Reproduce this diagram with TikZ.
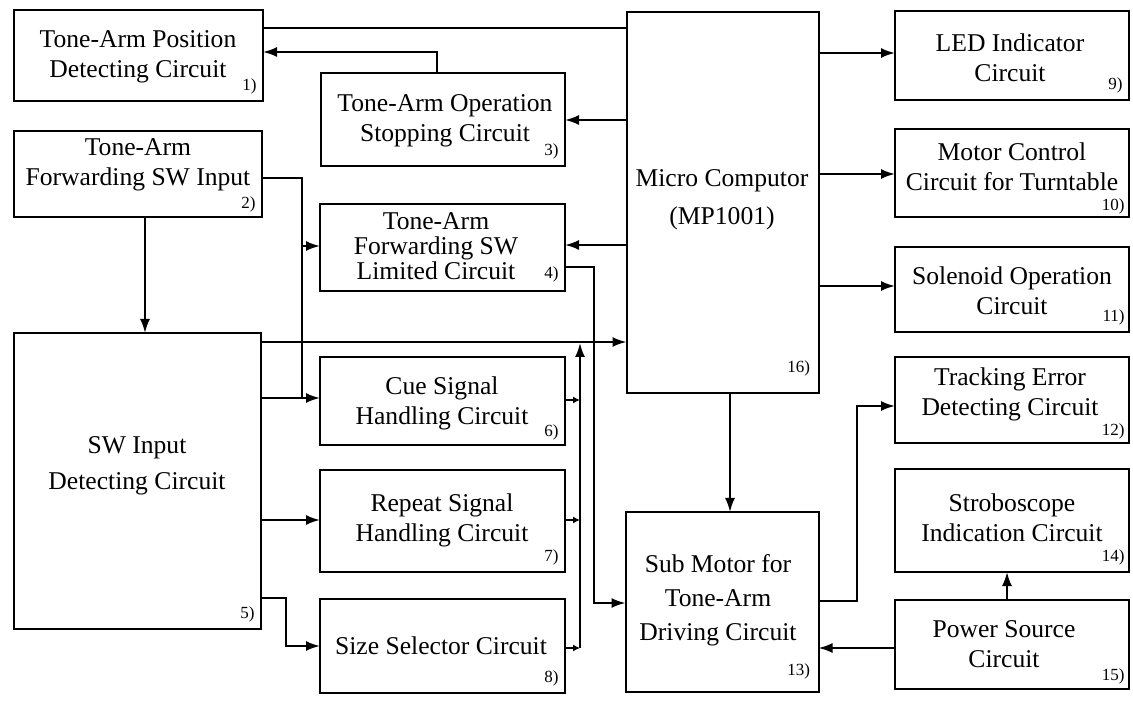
\documentclass[tikz,border=0pt]{standalone}
\usepackage{fontspec}
\setmainfont{Liberation Serif}
\usetikzlibrary{arrows.meta}
\tikzset{
  bx/.style={draw, line width=1pt, inner sep=0pt, outer sep=0pt},
  txt/.style={align=center, inner sep=0pt, font=\fontsize{12.8}{15}\selectfont},
  num/.style={anchor=south east, inner sep=0pt, font=\fontsize{8.5}{10}\selectfont},
  ln/.style={line width=1pt},
  arr/.style={line width=1pt, -{Latex[length=7pt,width=5pt]}},
  sarr/.style={line width=1pt, -{Latex[length=3.5pt,width=3.5pt]}}
}
\begin{document}
\begin{tikzpicture}[x=0.5pt, y=-0.5pt]
\useasboundingbox[fill=white] (0,0) rectangle (1133,704);
% boxes
\node[bx, minimum width=124.5pt, minimum height=45.5pt] (b1) at (138.5,55.5) {};
\node[bx, minimum width=122pt, minimum height=46.5pt] (b3) at (443,119.5) {};
\node[bx, minimum width=124pt, minimum height=43pt] (b2) at (138,174) {};
\node[bx, minimum width=122.5pt, minimum height=43.5pt] (b4) at (442.5,247.5) {};
\node[bx, minimum width=123.5pt, minimum height=148pt] (b5) at (137.5,481) {};
\node[bx, minimum width=122.5pt, minimum height=44pt] (b6) at (442.5,401) {};
\node[bx, minimum width=122.5pt, minimum height=51pt] (b7) at (442.5,521) {};
\node[bx, minimum width=122.5pt, minimum height=47pt] (b8) at (442.5,646) {};
\node[bx, minimum width=96pt, minimum height=190.5pt] (b16) at (722.5,202.5) {};
\node[bx, minimum width=117pt, minimum height=44.5pt] (b9) at (1012,55.5) {};
\node[bx, minimum width=117pt, minimum height=44pt] (b10) at (1012,173) {};
\node[bx, minimum width=117pt, minimum height=42.5pt] (b11) at (1012,289.5) {};
\node[bx, minimum width=117pt, minimum height=43pt] (b12) at (1012,400) {};
\node[bx, minimum width=117pt, minimum height=51.5pt] (b14) at (1012,520.5) {};
\node[bx, minimum width=117pt, minimum height=44.5pt] (b15) at (1012,644.5) {};
\node[bx, minimum width=96.5pt, minimum height=90pt] (b13) at (722,602) {};
% texts
\node[txt] (t1) at (138,57) {Tone-Arm Position\\Detecting Circuit};
\node[txt] (t3) at (445,121) {Tone-Arm Operation\\Stopping Circuit};
\node[txt] (t2) at (138,165) {Tone-Arm\\Forwarding SW Input};
\node[txt, font=\fontsize{12.8}{12.5}\selectfont] (t4) at (436,246) {Tone-Arm\\Forwarding SW\\Limited Circuit};
\node[txt] (t5) at (137,466) {SW Input\\[3pt]Detecting Circuit};
\node[txt] (t6) at (442,403) {Cue Signal\\Handling Circuit};
\node[txt] (t7) at (442,520) {Repeat Signal\\Handling Circuit};
\node[txt] (t8) at (441,646) {Size Selector Circuit};
\node[txt] (t16) at (722,200) {Micro Computor\\[4pt](MP1001)};
\node[txt] (t9) at (1010,58) {LED Indicator\\Circuit};
\node[txt] (t10) at (1012,167) {Motor Control\\Circuit for Turntable};
\node[txt] (t11) at (1012,291) {Solenoid Operation\\Circuit};
\node[txt] (t12) at (1010,394) {Tracking Error\\Detecting Circuit};
\node[txt] (t14) at (1012,518) {Stroboscope\\Indication Circuit};
\node[txt] (t15) at (1004,644) {Power Source\\Circuit};
\node[txt] (t13) at (718,600) {Sub Motor for\\[2pt]Tone-Arm\\[2pt]Driving Circuit};
% numbers
\node[num] (n1) at ([shift={(-6,-6)}]b1.south east) {1)};
\node[num] (n2) at ([shift={(-6,-4)}]b2.south east) {2)};
\node[num] (n3) at ([shift={(-6,-6)}]b3.south east) {3)};
\node[num] (n4) at ([shift={(-6,-8)}]b4.south east) {4)};
\node[num] (n5) at ([shift={(-6,-6)}]b5.south east) {5)};
\node[num] (n6) at ([shift={(-6,-4)}]b6.south east) {6)};
\node[num] (n7) at ([shift={(-6,-6)}]b7.south east) {7)};
\node[num] (n8) at ([shift={(-6,-6)}]b8.south east) {8)};
\node[num] (n9) at ([shift={(-6,-6)}]b9.south east) {9)};
\node[num] (n10) at ([shift={(-4,-2)}]b10.south east) {10)};
\node[num] (n11) at ([shift={(-4,-6)}]b11.south east) {11)};
\node[num] (n12) at ([shift={(-4,-3)}]b12.south east) {12)};
\node[num] (n14) at ([shift={(-4,-6)}]b14.south east) {14)};
\node[num] (n15) at ([shift={(-4,-4)}]b15.south east) {15)};
\node[num] (n16) at ([shift={(-8,-16)}]b16.south east) {16)};
\node[num] (n13) at ([shift={(-8,-12)}]b13.south east) {13)};
% connectors
\draw[ln] (b1.east |- 0,28) -- (b16.west |- 0,28);
\draw[arr] (b3.north -| 437,0) |- (b1.east |- 0,52);
\draw[arr] (b16.west |- 0,120) -- (b3.east |- 0,120);
\draw[arr] (b16.west |- 0,245) -- (b4.east |- 0,245);
\draw[arr] (b4.east |- 0,267) -| (594,603) -- (b13.west |- 0,603);
\draw[ln] (b2.east |- 0,178) -| (302,398);
\draw[arr] (302,246) -- (b4.west |- 0,246);
\draw[arr] (b2.south -| 145,0) -- (b5.north -| 145,0);
\draw[arr] (b5.east |- 0,342) -- (b16.west |- 0,342);
\draw[arr] (b5.east |- 0,398) -- (b6.west |- 0,398);
\draw[arr] (b5.east |- 0,520) -- (b7.west |- 0,520);
\draw[arr] (b5.east |- 0,598) -| (286,646) -- (b8.west |- 0,646);
\draw[sarr] (b6.east |- 0,400) -- (580,400);
\draw[sarr] (b7.east |- 0,520) -- (580,520);
\draw[sarr] (b8.east |- 0,648) -- (580,648);
\draw[arr] (580,648) -- (580,343);
\draw[arr] (b16.east |- 0,53) -- (b9.west |- 0,53);
\draw[arr] (b16.east |- 0,174) -- (b10.west |- 0,174);
\draw[arr] (b16.east |- 0,286) -- (b11.west |- 0,286);
\draw[arr] (b16.south -| 730,0) -- (b13.north -| 730,0);
\draw[arr] (b13.east |- 0,601) -| (857,406) -- (b12.west |- 0,406);
\draw[arr] (b15.west |- 0,648) -- (b13.east |- 0,648);
\draw[arr] (b15.north -| 1007,0) -- (b14.south -| 1007,0);
\end{tikzpicture}
\end{document}
